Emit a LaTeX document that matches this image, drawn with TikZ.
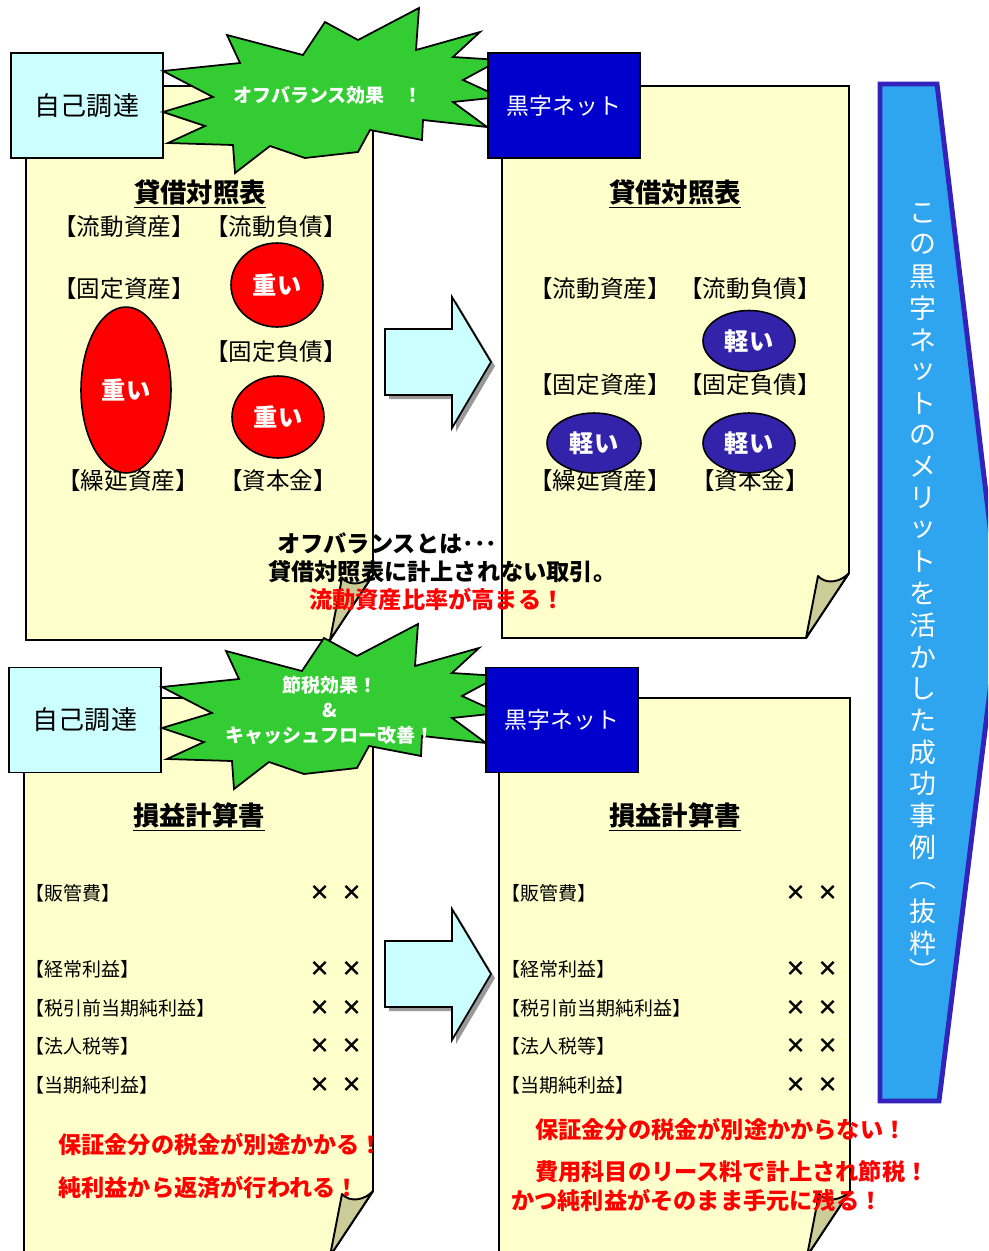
\documentclass[tikz,border=0pt]{standalone}
\usepackage{fontspec}
\setmainfont{Noto Sans CJK JP}
\usepackage{tikz}
\usetikzlibrary{shapes.geometric}

\definecolor{paperyellow}{HTML}{FFFFCC}
\definecolor{curlgrey}{HTML}{CCCC99}
\definecolor{burstgreen}{HTML}{33CC33}
\definecolor{selfcyan}{HTML}{CCFFFF}
\definecolor{netblue}{HTML}{0000CC}
\definecolor{ovalblue}{HTML}{3322AA}
\definecolor{sideblue}{HTML}{2EA5EE}
\definecolor{sideedge}{HTML}{3322BB}
\definecolor{shadegrey}{HTML}{999999}

\tikzset{
  papersheet/.style={draw=black, line width=1.1pt, fill=paperyellow},
  papercurl/.style={draw=black, line width=1.1pt, fill=curlgrey, line join=round},
  starburst/.style={draw=black, line width=1pt, fill=burstgreen},
  selfbox/.style={draw=black, line width=1.1pt, fill=selfcyan, minimum width=3.04cm, minimum height=2.1cm, inner sep=0pt, font=\fontsize{14.8}{17}\selectfont},
  netbox/.style={draw=black, line width=1.1pt, fill=netblue, text=white, minimum width=3.04cm, minimum height=2.1cm, inner sep=0pt, font=\fontsize{13}{15}\selectfont},
  bursttext/.style={inner sep=0pt, text=white, font=\bfseries\fontsize{10.8}{14.2}\selectfont},
  heavyoval/.style={ellipse, draw=black, line width=0.9pt, fill=red, text=white, inner sep=0pt, font=\bfseries\fontsize{13.8}{16}\selectfont},
  lightoval/.style={heavyoval, fill=ovalblue},
  headtext/.style={inner sep=0pt, font=\bfseries\fontsize{15}{18}\selectfont},
  itemtext/.style={inner sep=0pt, font=\fontsize{13.4}{15}\selectfont},
  rowtext/.style={inner sep=0pt, anchor=west, font=\fontsize{10.8}{12}\selectfont},
  xmark/.style={inner sep=0pt, font=\bfseries\fontsize{12}{14}\selectfont},
  blacknote/.style={inner sep=0pt, anchor=west, font=\bfseries\fontsize{13.2}{15}\selectfont},
  rednote/.style={blacknote, text=red},
  vchar/.style={inner sep=0pt, text=white, font=\fontsize{15.3}{17}\selectfont},
  blockarrow/.style={draw=black, line width=1pt, fill=selfcyan, line join=miter},
  arrowshade/.style={fill=shadegrey},
  sidearrow/.style={draw=sideedge, line width=2.8pt, fill=sideblue},
}

% sheet of paper with curled corner: left, top, right, bottom
\newcommand{\sheet}[4]{%
  \draw[papersheet] (#1,#2) -- (#3,#2) -- (#3,#4-65) -- (#3-43,#4) -- (#1,#4) -- cycle;
  \draw[papercurl] (#3,#4-65) .. controls (#3-8,#4-56) and (#3-23,#4-53) .. (#3-31,#4-62) -- (#3-43,#4) -- cycle;}

\newcommand{\burstshape}{(163,71) -- (240,63) -- (227,35) -- (303,55) -- (325,22) -- (358,40)
  -- (419,8) -- (416,50) -- (480,32) -- (453,57) -- (500,60) -- (463,80) -- (500,97) -- (453,102)
  -- (487,127) -- (423,120) -- (422,140) -- (370,130) -- (358,152) -- (305,158) -- (270,146)
  -- (235,173) -- (233,145) -- (168,143) -- (205,126) -- (163,112) -- (213,97) -- cycle}

\begin{document}
\begin{tikzpicture}[x=0.02cm, y=-0.02cm]
\useasboundingbox (0,0) rectangle (988,1251);
\clip (0,0) rectangle (988,1251);

\sheet{26}{86}{373}{640}
\sheet{502}{86}{849}{638}
\sheet{24}{698}{373}{1256}
\sheet{499}{698}{850}{1256}

\draw[sidearrow] (880,84) -- (937,84) -- (1000,610) -- (939,1101) -- (880,1101) -- cycle;

\foreach \dy in {0,612}{
  \fill[arrowshade, shift={(4,\dy+4)}] (385,329) -- (452,329) -- (452,297) -- (491,362) -- (452,428) -- (452,395) -- (385,395) -- cycle;
  \draw[blockarrow, shift={(0,\dy)}] (385,329) -- (452,329) -- (452,297) -- (491,362) -- (452,428) -- (452,395) -- (385,395) -- cycle;
}

\node[selfbox] (self1) at (87,105.5) {自己調達};
\node[selfbox] (self2) at (85,720) {自己調達};

\draw[starburst] \burstshape;
\draw[starburst, shift={(-1,616)}] \burstshape;

\node[netbox] (net1) at (564,105.5) {黒字ネット};
\node[netbox] (net2) at (562,720) {黒字ネット};

\node[bursttext] (effect1) at (328,95) {オフバランス効果　！};
\node[bursttext, align=center] (effect2) at (330,710) {節税効果！\\\&\\キャッシュフロー改善！};

% balance sheets
\node[headtext] (bs1) at (200,194) {\underline{貸借対照表}};
\node[itemtext] (ca1) at (124,227) {【流動資産】};
\node[itemtext] (cl1) at (276,227) {【流動負債】};
\node[itemtext] (fa1) at (124,289) {【固定資産】};
\node[itemtext] (fl1) at (276,352) {【固定負債】};
\node[itemtext] (da1) at (128,481) {【繰延資産】};
\node[itemtext] (eq1) at (278,481) {【資本金】};
\node[heavyoval, minimum width=1.84cm, minimum height=1.68cm] (h1) at (277,285) {重い};
\node[heavyoval, minimum width=1.84cm, minimum height=1.64cm] (h2) at (278,417) {重い};
\node[heavyoval, minimum width=1.8cm, minimum height=3.32cm] (h3) at (126,390) {重い};

\node[headtext] (bs2) at (675,194) {\underline{貸借対照表}};
\node[itemtext] (ca2) at (600,289) {【流動資産】};
\node[itemtext] (cl2) at (750,289) {【流動負債】};
\node[itemtext] (fa2) at (600,385) {【固定資産】};
\node[itemtext] (fl2) at (750,385) {【固定負債】};
\node[itemtext] (da2) at (600,481) {【繰延資産】};
\node[itemtext] (eq2) at (750,481) {【資本金】};
\node[lightoval, minimum width=1.84cm, minimum height=1.22cm] (l1) at (749,341) {軽い};
\node[lightoval, minimum width=1.88cm, minimum height=1.2cm] (l2) at (594,443) {軽い};
\node[lightoval, minimum width=1.84cm, minimum height=1.2cm] (l3) at (749,443) {軽い};

\node[blacknote] (off1) at (277,543) {オフバランスとは･･･};
\node[blacknote] (off2) at (268,572) {貸借対照表に計上されない取引。};
\node[rednote] (off3) at (309,600) {流動資産比率が高まる！};

% income statements
\node[headtext] (pl1) at (199,817) {\underline{損益計算書}};
\node[headtext] (pl2) at (675,817) {\underline{損益計算書}};
\foreach \y/\t [count=\i] in {893/販管費, 969/経常利益, 1008/税引前当期純利益, 1046/法人税等, 1085/当期純利益}{
  \node[rowtext] (rl\i) at (25,\y) {【\t】};
  \node[xmark] (xla\i) at (320,\y) {×};
  \node[xmark] (xlb\i) at (352,\y) {×};
  \node[rowtext] (rr\i) at (501,\y) {【\t】};
  \node[xmark] (xra\i) at (796,\y) {×};
  \node[xmark] (xrb\i) at (828,\y) {×};
}

\node[rednote] (tax1) at (58,1145) {保証金分の税金が別途かかる！};
\node[rednote] (tax2) at (58,1188) {純利益から返済が行われる！};
\node[rednote] (tax3) at (535,1130) {保証金分の税金が別途かからない！};
\node[rednote] (tax4) at (535,1172) {費用科目のリース料で計上され節税！};
\node[rednote] (tax5) at (511,1200) {かつ純利益がそのまま手元に残る！};

\foreach \c [count=\i] in {こ,の,黒,字,ネ,ッ,ト,の,メ,リ,ッ,ト,を,活,か,し,た,成,功,事,例}
  \node[vchar] (v\i) at (923,{213+31.7*(\i-1)}) {\c};
\node[vchar] (v22) at (923,886) {︵};
\node[vchar] (v23) at (923,911) {抜};
\node[vchar] (v24) at (923,943) {粋};
\node[vchar] (v25) at (923,970) {︶};
\end{tikzpicture}
\end{document}
